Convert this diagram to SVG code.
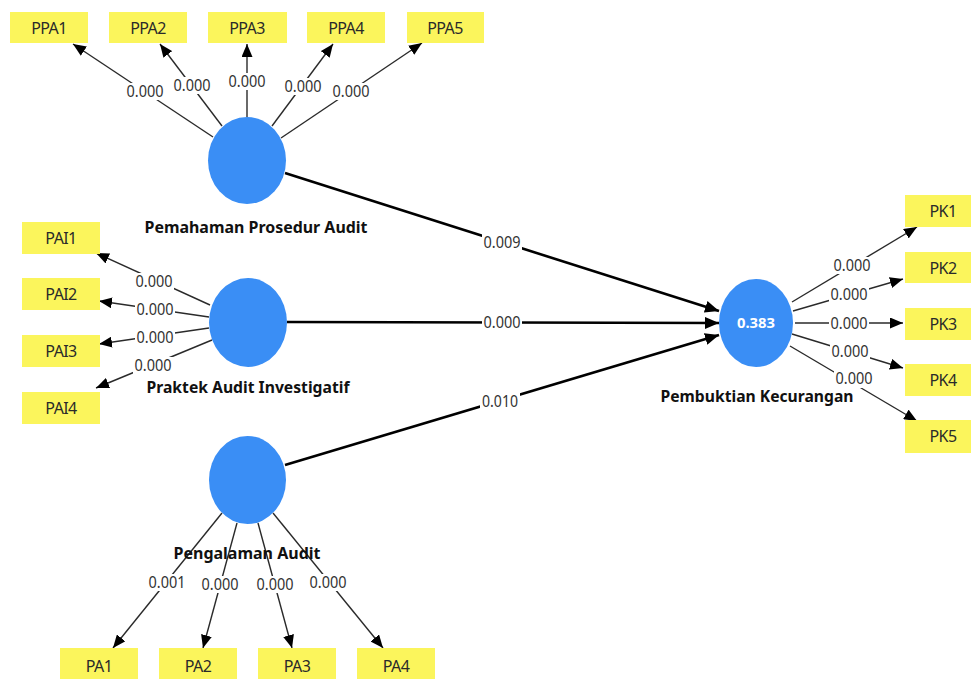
<svg xmlns="http://www.w3.org/2000/svg" width="971" height="679" viewBox="0 0 971 679">
<defs>
<style>
.ind rect{fill:#fbf55c}
.ind text{font-family:"Noto Sans","DejaVu Sans",sans-serif;font-size:16px;letter-spacing:-0.6px;fill:#2a2a2a;text-anchor:middle}
.lv ellipse{fill:#3a8ef5}
.lv text.name{font-family:"Noto Sans","DejaVu Sans",sans-serif;font-size:16px;font-weight:bold;fill:#111;text-anchor:middle}
.lv text.val{font-family:"Noto Sans","DejaVu Sans",sans-serif;font-size:15px;font-weight:bold;fill:#fff;text-anchor:middle}
.m{stroke:#2a2a2a;stroke-width:1.4;fill:none;marker-end:url(#ah)}
.s{stroke:#000;stroke-width:2.6;fill:none;marker-end:url(#ahb)}
.lb{fill:#fff}
.lt{font-family:"Noto Sans","DejaVu Sans",sans-serif;font-size:16px;fill:#333;text-anchor:middle}
</style>
<marker id="ah" markerUnits="userSpaceOnUse" markerWidth="13" markerHeight="11" refX="13" refY="5.5" orient="auto"><path d="M0,0 L13,5.5 L0,11 z" fill="#000"/></marker>
<marker id="ahb" markerUnits="userSpaceOnUse" markerWidth="14" markerHeight="12" refX="14" refY="6" orient="auto"><path d="M0,0 L14,6 L0,12 z" fill="#000"/></marker>
</defs>
<rect width="971" height="679" fill="#fff"/>

<g id="connectors">
<line class="m" x1="213" y1="137" x2="73" y2="44"/>
<line class="m" x1="222" y1="126" x2="160" y2="44"/>
<line class="m" x1="247" y1="117" x2="247" y2="44"/>
<line class="m" x1="272" y1="126" x2="333" y2="44"/>
<line class="m" x1="281" y1="138" x2="422" y2="43"/>
<line class="m" x1="210" y1="305" x2="96" y2="253"/>
<line class="m" x1="209" y1="317" x2="99" y2="301"/>
<line class="m" x1="209" y1="328" x2="99" y2="344"/>
<line class="m" x1="212" y1="340" x2="96" y2="388"/>
<line class="m" x1="792" y1="302" x2="917" y2="227"/>
<line class="m" x1="793" y1="311" x2="903" y2="279"/>
<line class="m" x1="795" y1="323" x2="903" y2="323"/>
<line class="m" x1="792" y1="334" x2="903" y2="368"/>
<line class="m" x1="790" y1="346" x2="917" y2="421"/>
<line class="m" x1="222" y1="513" x2="113" y2="648"/>
<line class="m" x1="237" y1="523" x2="203" y2="648"/>
<line class="m" x1="258" y1="523" x2="292" y2="648"/>
<line class="m" x1="273" y1="513" x2="383" y2="648"/>
<line class="s" x1="285" y1="173" x2="719" y2="311"/>
<line class="s" x1="287" y1="322" x2="719" y2="323"/>
<line class="s" x1="285" y1="465" x2="719" y2="335"/>
<g id="labels">
<rect class="lb" x="125" y="83" width="40" height="17"/><text class="lt" x="145" y="97" textLength="37" lengthAdjust="spacingAndGlyphs">0.000</text>
<rect class="lb" x="172" y="77" width="40" height="17"/><text class="lt" x="192" y="91" textLength="37" lengthAdjust="spacingAndGlyphs">0.000</text>
<rect class="lb" x="227" y="73" width="40" height="17"/><text class="lt" x="247" y="87" textLength="37" lengthAdjust="spacingAndGlyphs">0.000</text>
<rect class="lb" x="283" y="78" width="40" height="17"/><text class="lt" x="303" y="92" textLength="37" lengthAdjust="spacingAndGlyphs">0.000</text>
<rect class="lb" x="331" y="83" width="40" height="17"/><text class="lt" x="351" y="97" textLength="37" lengthAdjust="spacingAndGlyphs">0.000</text>
<rect class="lb" x="134" y="273" width="40" height="17"/><text class="lt" x="154" y="287" textLength="37" lengthAdjust="spacingAndGlyphs">0.000</text>
<rect class="lb" x="135" y="301" width="40" height="17"/><text class="lt" x="155" y="315" textLength="37" lengthAdjust="spacingAndGlyphs">0.000</text>
<rect class="lb" x="135" y="329" width="40" height="17"/><text class="lt" x="155" y="343" textLength="37" lengthAdjust="spacingAndGlyphs">0.000</text>
<rect class="lb" x="133" y="357" width="40" height="17"/><text class="lt" x="153" y="371" textLength="37" lengthAdjust="spacingAndGlyphs">0.000</text>
<rect class="lb" x="832" y="257" width="40" height="17"/><text class="lt" x="852" y="271" textLength="37" lengthAdjust="spacingAndGlyphs">0.000</text>
<rect class="lb" x="829" y="286" width="40" height="17"/><text class="lt" x="849" y="300" textLength="37" lengthAdjust="spacingAndGlyphs">0.000</text>
<rect class="lb" x="829" y="315" width="40" height="17"/><text class="lt" x="849" y="329" textLength="37" lengthAdjust="spacingAndGlyphs">0.000</text>
<rect class="lb" x="830" y="343" width="40" height="17"/><text class="lt" x="850" y="357" textLength="37" lengthAdjust="spacingAndGlyphs">0.000</text>
<rect class="lb" x="147" y="574" width="40" height="17"/><text class="lt" x="167" y="588" textLength="37" lengthAdjust="spacingAndGlyphs">0.001</text>
<rect class="lb" x="200" y="576" width="40" height="17"/><text class="lt" x="220" y="590" textLength="37" lengthAdjust="spacingAndGlyphs">0.000</text>
<rect class="lb" x="255" y="576" width="40" height="17"/><text class="lt" x="275" y="590" textLength="37" lengthAdjust="spacingAndGlyphs">0.000</text>
<rect class="lb" x="308" y="574" width="40" height="17"/><text class="lt" x="328" y="588" textLength="37" lengthAdjust="spacingAndGlyphs">0.000</text>
<rect class="lb" x="482" y="234" width="40" height="17"/><text class="lt" x="502" y="248" textLength="37" lengthAdjust="spacingAndGlyphs">0.009</text>
<rect class="lb" x="482" y="314" width="40" height="17"/><text class="lt" x="502" y="328" textLength="37" lengthAdjust="spacingAndGlyphs">0.000</text>
<rect class="lb" x="480" y="393" width="40" height="17"/><text class="lt" x="500" y="407" textLength="36" lengthAdjust="spacingAndGlyphs">0.010</text>
</g>
</g>

<g id="PPA1" class="ind"><rect x="10" y="12" width="78" height="31"/><text x="49" y="34">PPA1</text></g>
<g id="PPA2" class="ind"><rect x="109" y="12" width="78" height="31"/><text x="148" y="34">PPA2</text></g>
<g id="PPA3" class="ind"><rect x="208" y="12" width="79" height="31"/><text x="247" y="34">PPA3</text></g>
<g id="PPA4" class="ind"><rect x="307" y="12" width="78" height="31"/><text x="346" y="34">PPA4</text></g>
<g id="PPA5" class="ind"><rect x="407" y="12" width="77" height="31"/><text x="445" y="34">PPA5</text></g>

<g id="PAI1" class="ind"><rect x="22" y="222" width="78" height="32"/><text x="61" y="244">PAI1</text></g>
<g id="PAI2" class="ind"><rect x="22" y="278" width="78" height="32"/><text x="61" y="300">PAI2</text></g>
<g id="PAI3" class="ind"><rect x="22" y="335" width="78" height="32"/><text x="61" y="357">PAI3</text></g>
<g id="PAI4" class="ind"><rect x="22" y="392" width="78" height="32"/><text x="61" y="414">PAI4</text></g>

<g id="PK1" class="ind"><rect x="905" y="195" width="78" height="32"/><text x="943" y="217">PK1</text></g>
<g id="PK2" class="ind"><rect x="905" y="252" width="78" height="31"/><text x="943" y="274">PK2</text></g>
<g id="PK3" class="ind"><rect x="905" y="308" width="78" height="32"/><text x="943" y="330">PK3</text></g>
<g id="PK4" class="ind"><rect x="905" y="364" width="78" height="32"/><text x="943" y="386">PK4</text></g>
<g id="PK5" class="ind"><rect x="905" y="420" width="78" height="33"/><text x="943" y="442">PK5</text></g>

<g id="PA1" class="ind"><rect x="60" y="648" width="78" height="34"/><text x="99" y="672">PA1</text></g>
<g id="PA2" class="ind"><rect x="159" y="648" width="78" height="34"/><text x="198" y="672">PA2</text></g>
<g id="PA3" class="ind"><rect x="258" y="648" width="78" height="34"/><text x="297" y="672">PA3</text></g>
<g id="PA4" class="ind"><rect x="357" y="648" width="78" height="34"/><text x="396" y="672">PA4</text></g>

<g id="PemahamanProsedurAudit" class="lv"><ellipse cx="247" cy="160.5" rx="39" ry="43.5"/><text class="name" x="256" y="233" textLength="223" lengthAdjust="spacingAndGlyphs">Pemahaman Prosedur Audit</text></g>
<g id="PraktekAuditInvestigatif" class="lv"><ellipse cx="248" cy="322.5" rx="39" ry="44.5"/><text class="name" x="248" y="393" textLength="203" lengthAdjust="spacingAndGlyphs">Praktek Audit Investigatif</text></g>
<g id="PengalamanAudit" class="lv"><ellipse cx="247.5" cy="480" rx="38.5" ry="44"/><text class="name" x="247" y="559" textLength="147" lengthAdjust="spacingAndGlyphs">Pengalaman Audit</text></g>
<g id="PembuktianKecurangan" class="lv"><ellipse cx="756" cy="323" rx="37" ry="44"/><text class="val" x="756" y="328" textLength="38" lengthAdjust="spacingAndGlyphs">0.383</text><text class="name" x="757" y="402" textLength="193" lengthAdjust="spacingAndGlyphs">Pembuktian Kecurangan</text></g>

<g id="labelPK5">
<rect class="lb" x="834" y="371" width="40" height="17"/><text class="lt" x="854" y="384" textLength="37" lengthAdjust="spacingAndGlyphs">0.000</text>
</g>
</svg>
